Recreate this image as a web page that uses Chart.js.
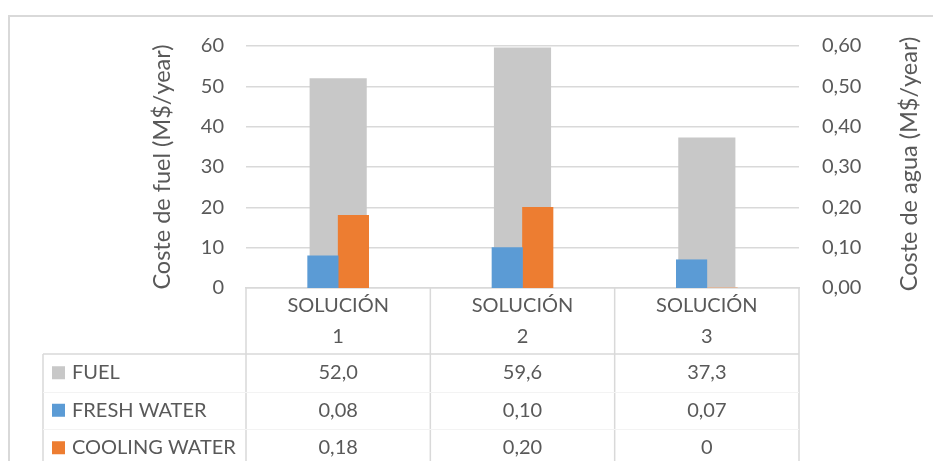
<!DOCTYPE html>
<html>
<head>
<meta charset="utf-8">
<script src="https://cdn.jsdelivr.net/npm/chart.js@4.4.1/dist/chart.umd.min.js"></script>
<style>
  html, body { margin: 0; padding: 0; background: #fff; }
  #wrap { width: 933px; height: 461px; }
</style>
</head>
<body>
<div id="wrap"><canvas id="costChart" width="933" height="461"></canvas></div>
<script>
// categories and series
const categories = [["SOLUCIÓN", "1"], ["SOLUCIÓN", "2"], ["SOLUCIÓN", "3"]];
const seriesNames = ["FUEL", "FRESH WATER", "COOLING WATER"];
const fuelCost = [52.0, 59.6, 37.3];
const freshWaterCost = [0.08, 0.10, 0.07];
const coolingWaterCost = [0.18, 0.20, 0];
const seriesColors = ["#c8c8c8", "#5b9bd5", "#ed7d31"];

const FONT = "Lato, 'Open Sans', sans-serif";
const TEXT = "#595959";
const LINE = "#d9d9d9";
const SIZE = 20;
const TITLE_SIZE = 23.5;

function fmt(v, digits) {
    if (v === 0) return "0";
    return v.toFixed(digits).replace(".", ",");
}

// outer frame, data table under the x axis, right axis title
const dataTable = {
    id: "dataTable",
    beforeDraw(chart) {
        const ctx = chart.ctx;
        ctx.save();
        ctx.strokeStyle = LINE;
        ctx.lineWidth = 2;
        ctx.beginPath();
        ctx.moveTo(9, 461);
        ctx.lineTo(9, 16);
        ctx.lineTo(933, 16);
        ctx.stroke();
        ctx.restore();
    },
    afterDraw(chart) {
        const { ctx, chartArea, scales: { x } } = chart;
        const half = (x.getPixelForValue(1) - x.getPixelForValue(0)) / 2;
        const edges = categories.map((c, i) => x.getPixelForValue(i) - half);
        edges.push(x.getPixelForValue(categories.length - 1) + half);

        const headTop = chartArea.bottom;
        const tableTop = x.bottom;
        const rowH = 37.5;
        const tableLeft = 43;

        ctx.save();
        ctx.strokeStyle = LINE;
        ctx.lineWidth = 1.5;
        ctx.beginPath();
        edges.forEach(e => {
            ctx.moveTo(e, headTop);
            ctx.lineTo(e, chart.height);
        });
        ctx.moveTo(tableLeft, tableTop);
        ctx.lineTo(tableLeft, chart.height);
        ctx.moveTo(tableLeft, tableTop);
        ctx.lineTo(edges[edges.length - 1], tableTop);
        ctx.stroke();

        // very faint row separators
        ctx.strokeStyle = "#f3f3f3";
        ctx.lineWidth = 1;
        ctx.beginPath();
        for (let r = 1; r < seriesNames.length; r++) {
            const y = Math.round(tableTop + r * rowH) + 0.5;
            ctx.moveTo(tableLeft, y);
            ctx.lineTo(edges[edges.length - 1], y);
        }
        ctx.stroke();

        const rows = [fuelCost.map(v => fmt(v, 1)),
                      freshWaterCost.map(v => fmt(v, 2)),
                      coolingWaterCost.map(v => fmt(v, 2))];

        ctx.font = SIZE + "px " + FONT;
        ctx.textBaseline = "middle";
        seriesNames.forEach((name, r) => {
            const cy = tableTop + rowH * r + rowH / 2;
            ctx.fillStyle = seriesColors[r];
            ctx.fillRect(52, cy - 6.5, 13, 13);
            ctx.fillStyle = TEXT;
            ctx.textAlign = "left";
            ctx.fillText(name, 72, cy);
            ctx.textAlign = "center";
            rows[r].forEach((txt, i) => ctx.fillText(txt, x.getPixelForValue(i), cy));
        });

        // right axis title, reading bottom to top like the left one
        ctx.font = TITLE_SIZE + "px " + FONT;
        ctx.fillStyle = TEXT;
        ctx.translate(909, (chartArea.top + chartArea.bottom) / 2 - 3);
        ctx.rotate(-Math.PI / 2);
        ctx.textAlign = "center";
        ctx.fillText("Coste de agua (M$/year)", 0, 0);
        ctx.restore();
    }
};

new Chart(document.getElementById("costChart"), {
    type: "bar",
    data: {
        labels: categories,
        datasets: [
            {
                label: seriesNames[1],
                data: freshWaterCost,
                backgroundColor: seriesColors[1],
                yAxisID: "y2",
                barThickness: 30.5,
                order: 0
            },
            {
                label: seriesNames[2],
                data: coolingWaterCost,
                backgroundColor: seriesColors[2],
                yAxisID: "y2",
                barThickness: 30.5,
                order: 0
            },
            {
                label: seriesNames[0],
                data: fuelCost,
                backgroundColor: seriesColors[0],
                yAxisID: "y",
                grouped: false,
                categoryPercentage: 1,
                barPercentage: 0.31,
                order: 1
            }
        ]
    },
    options: {
        responsive: false,
        animation: false,
        layout: { padding: { left: 148, right: 0, top: 46, bottom: 107 } },
        plugins: {
            legend: { display: false },
            tooltip: { enabled: false }
        },
        scales: {
            x: {
                grid: { display: false, drawTicks: false },
                border: { display: true, color: LINE, width: 1.5 },
                ticks: {
                    color: TEXT,
                    font: { family: FONT, size: SIZE, lineHeight: 1.55 },
                    padding: 2,
                    maxRotation: 0,
                    autoSkip: false
                },
                afterFit(scale) { scale.height = 66; }
            },
            y: {
                position: "left",
                min: 0,
                max: 60,
                ticks: {
                    stepSize: 10,
                    color: TEXT,
                    font: { family: FONT, size: SIZE },
                    padding: 22
                },
                grid: { color: LINE, lineWidth: 1.5, drawTicks: false },
                border: { display: false },
                title: {
                    display: true,
                    text: "Coste de fuel (M$/year)",
                    color: TEXT,
                    font: { family: FONT, size: TITLE_SIZE },
                    padding: 0
                },
                afterFit(scale) { scale.width = 246 - 148; }
            },
            y2: {
                position: "right",
                min: 0,
                max: 0.6,
                ticks: {
                    stepSize: 0.1,
                    color: TEXT,
                    font: { family: FONT, size: SIZE },
                    padding: 23,
                    callback: v => fmt(v, 2) === "0" ? "0,00" : fmt(v, 2)
                },
                grid: { display: false, drawTicks: false },
                border: { display: false },
                afterFit(scale) { scale.width = 933 - 799; }
            }
        }
    },
    plugins: [dataTable]
});
</script>
</body>
</html>
